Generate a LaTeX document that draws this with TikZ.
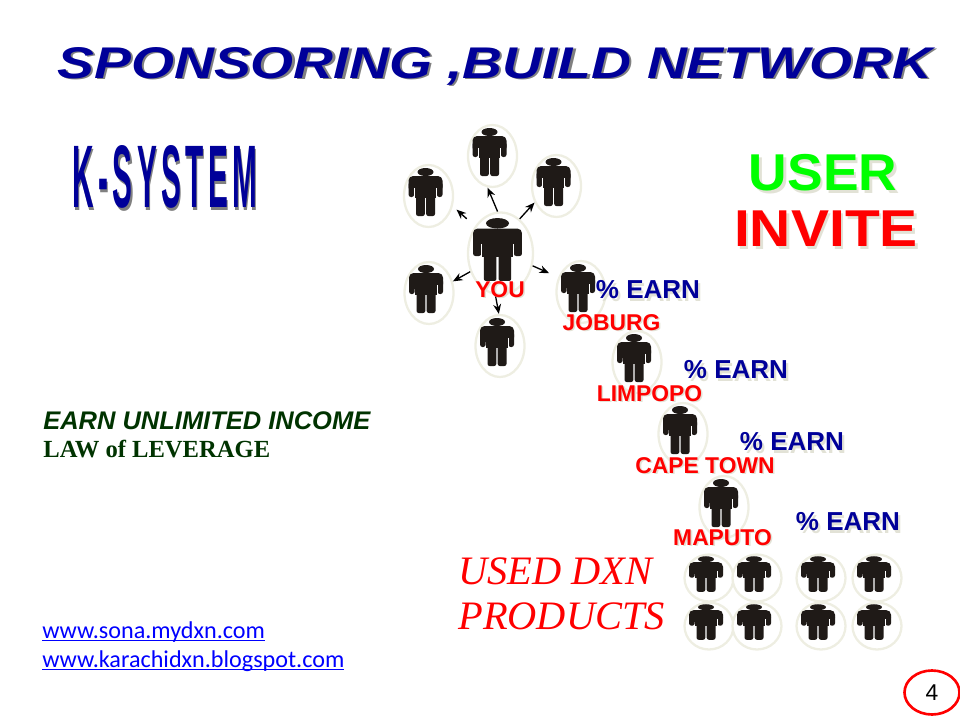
\documentclass[tikz,border=0pt]{standalone}
\usepackage{fontspec}
\setmainfont{Liberation Sans}
\newfontfamily\serifface{Liberation Serif}
\newfontfamily\linkface{Carlito}
\usetikzlibrary{shapes.geometric,arrows.meta}
\setlength{\unitlength}{0.02cm}
\definecolor{navyword}{HTML}{000099}
\definecolor{ringpale}{HTML}{EEEEE2}
\definecolor{bodyblack}{HTML}{1F1A17}
\definecolor{shadowpale}{HTML}{E2E2D6}
\definecolor{shadowgrey}{HTML}{808080}
\definecolor{leafgreen}{HTML}{003300}
\def\shadowtext#1#2#3{\leavevmode\rlap{\kern#2\raisebox{-#2}{\color{#1}#3}}#3}
% #1 name, #2 figure centre x,y  #3 ring w  #4 ring h  #5 xscale  #6 yscale
\def\person#1(#2,#3)#4#5#6#7{
	\node[ringnode, minimum width=#4*0.02cm, minimum height=#5*0.02cm] (#1) at (#2+3, #3+4) {};
	\begin{scope}[shift={(#2,#3)}, xscale=#6, yscale=#7]
		\fill[bodyblack] (0,-20) ellipse (8 and 4);
		\fill[bodyblack, rounded corners=2.6pt] (-17,-16) rectangle (17,0);
		\fill[bodyblack, rounded corners=1.4pt] (-17,-10) rectangle (-11.3,5);
		\fill[bodyblack, rounded corners=1.4pt] (11.3,-10) rectangle (17,5);
		\fill[white] (-11.3,-4) rectangle (-10.6,5);
		\fill[white] (10.6,-4) rectangle (11.3,5);
		\fill[bodyblack] (-10.6,-14) rectangle (10.6,6);
		\fill[bodyblack, rounded corners=1.2pt] (-9.5,0) rectangle (-0.7,24);
		\fill[bodyblack, rounded corners=1.2pt] (0.7,0) rectangle (9.5,24);
	\end{scope}
}
\tikzset{
	ringnode/.style={ellipse, draw=ringpale, fill=white, line width=1.3pt, inner sep=0pt},
	spreadarrow/.style={-{Stealth[length=5.5pt,width=4.5pt]}, black, line width=0.75pt},
	placename/.style={text=red, font=\bfseries\fontsize{13}{13}\selectfont},
	earnlabel/.style={text=navyword, font=\bfseries\fontsize{14.8}{15}\selectfont},
	linklabel/.style={text=blue, anchor=base west, inner sep=0pt, font=\linkface\fontsize{13.75}{14}\selectfont},
}
\begin{document}
\begin{tikzpicture}[x=0.02cm, y=-0.02cm]
	\useasboundingbox (0,0) rectangle (960,720);

	%%%%% headings %%%%%
	\node[text=navyword, inner sep=0pt, anchor=base] (title) at (495,78) {\resizebox{875\unitlength}{31\unitlength}{\bfseries\itshape\shadowtext{shadowgrey}{0.4pt}{SPONSORING ,BUILD NETWORK}}};
	\node[text=navyword, inner sep=0pt, anchor=base] (ksystem) at (165,207) {\resizebox{185\unitlength}{62\unitlength}{\bfseries\addfontfeature{LetterSpace=15}\shadowtext{shadowgrey}{0.4pt}{K-SYSTEM}}};
	\node[text=green, inner sep=0pt, font=\bfseries\fontsize{29.5}{30}\selectfont] (user) at (823,174) {\scalebox{1.03}[1]{\shadowtext{shadowpale}{1.4pt}{USER}}};
	\node[text=red, inner sep=0pt, font=\bfseries\fontsize{29.5}{30}\selectfont] (invite) at (826,230) {\scalebox{1.1}[1]{\shadowtext{shadowpale}{1.4pt}{INVITE}}};

	%%%%% left side %%%%%
	\node[text=leafgreen, anchor=west, inner sep=0pt, font=\bfseries\itshape\fontsize{14.5}{15}\selectfont] (earnincome) at (43,421) {EARN UNLIMITED INCOME};
	\node[text=leafgreen, anchor=west, inner sep=0pt, font=\serifface\bfseries\fontsize{14}{14}\selectfont] (leverage) at (43,449) {LAW of LEVERAGE};
	\node[linklabel] (linksona) at (42,638) {\underline{\smash{www.sona.mydxn.com}}};
	\node[linklabel] (linkblog) at (42,667) {\underline{\smash{www.karachidxn.blogspot.com}}};
	\node[text=red, anchor=west, inner sep=0pt, font=\serifface\itshape\fontsize{23}{23}\selectfont] (usedline) at (458,571) {USED DXN};
	\node[text=red, anchor=west, inner sep=0pt, font=\serifface\itshape\fontsize{23}{23}\selectfont] (productsline) at (458,616) {PRODUCTS};

	%%%%% star round you %%%%%
	\person{upperleft}(425.5,192){49}{62}{1}{1}
	\person{upper}(489.5,152){49}{62}{1}{1}
	\person{upperright}(553.5,182){49}{62}{1}{1}
	\person{lowerleft}(426,289){49}{62}{1}{1}
	\person{lowerright}(578,288){49}{62}{1}{1}
	\person{lower}(497,342){49}{62}{1}{1}
	\person{you}(497.5,249.5){65}{82}{1.44}{1.31}

	\draw[spreadarrow] (you.94) -- (upper.-99);
	\draw[spreadarrow] (you.61) -- (upperright.-143);
	\draw[spreadarrow, shorten <=0.22cm, shorten >=0.1cm] (you.133) -- (upperleft.-23);
	\draw[spreadarrow, shorten >=0.2cm] (you.-21) -- (lowerright.147);
	\draw[spreadarrow] (you.-149) -- (lowerleft.26);
	\draw[spreadarrow] (you.-97) -- (lower.92);

	%%%%% chain %%%%%
	\node[placename] (youlabel) at (500,290) {\shadowtext{shadowpale}{0.9pt}{YOU}};
	\node[placename] (joburg) at (611.5,323) {\shadowtext{shadowpale}{0.9pt}{JOBURG}};
	\person{limpopoperson}(634,358){49}{62}{1}{1}
	\node[placename] (limpopo) at (649.5,394) {\shadowtext{shadowpale}{0.9pt}{LIMPOPO}};
	\person{capeperson}(680,430){49}{62}{1}{1}
	\node[placename] (capetown) at (705,466) {\shadowtext{shadowpale}{0.9pt}{CAPE TOWN}};
	\person{maputoperson}(721,503){49}{62}{1}{1}
	\node[placename] (maputo) at (722.5,538) {\shadowtext{shadowpale}{0.9pt}{MAPUTO}};

	\node[earnlabel] (earnone) at (648,291) {\shadowtext{shadowpale}{1.2pt}{\% EARN}};
	\node[earnlabel] (earntwo) at (736,371) {\shadowtext{shadowpale}{1.2pt}{\% EARN}};
	\node[earnlabel] (earnthree) at (792,443) {\shadowtext{shadowpale}{1.2pt}{\% EARN}};
	\node[earnlabel] (earnfour) at (848,523) {\shadowtext{shadowpale}{1.2pt}{\% EARN}};

	%%%%% bottom groups %%%%%
	\foreach \col/\colx in {a/706,b/754,c/818,d/874}{
		\person{row\col one}(\colx,574){49}{47}{1}{0.74}
		\person{row\col two}(\colx,622){49}{47}{1}{0.74}
	}

	\node[ellipse, draw=red, line width=1.5pt, minimum width=55*0.02cm, minimum height=44*0.02cm, inner sep=0pt, font=\fontsize{13}{13}\selectfont] (pagenumber) at (932,692.5) {4};
\end{tikzpicture}
\end{document}
